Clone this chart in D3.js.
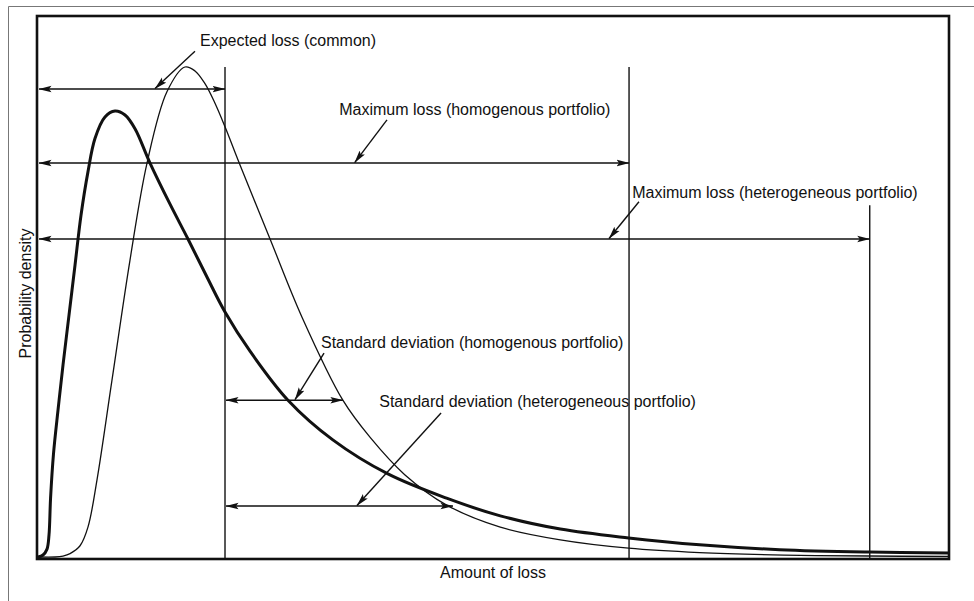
<!DOCTYPE html>
<html>
<head>
<meta charset="utf-8">
<script src="https://cdn.jsdelivr.net/npm/d3@7"></script>
<style>
  body { margin: 0; background: #fff; }
  svg text { font-family: "Liberation Sans", Arial, Helvetica, sans-serif; font-size: 16px; fill: #111; }
</style>
</head>
<body>
<svg id="chart" width="974" height="601"></svg>
<script>
// Loss distribution, homogenous portfolio (thin) - [amount of loss, density]
const homogenous = [
  [0, 0], [1.87, 0], [2.75, 0.2], [3.52, 0.7], [4.62, 2.3], [5.49, 6.1], [6.48, 15.7],
  [8.13, 36.1], [10.11, 60.6], [11.98, 80.4], [14.18, 95.0], [16.15, 100],
  [17.25, 99.2], [18.35, 96.6], [19.45, 92.6], [20.55, 87.8], [22.2, 80.0], [25.5, 64.9],
  [29.0, 49.0], [33.5, 32.0], [36.5, 24.4], [40.3, 16.8], [44.9, 10.6], [50.8, 6.1],
  [57.4, 3.5], [64.9, 1.8], [72.7, 0.9], [82, 0.4], [91.4, 0.2], [100, 0.1]
];

// Loss distribution, heterogeneous portfolio (heavy)
const heterogeneous = [
  [0, 0], [0.55, 0.4], [0.99, 1.6], [1.21, 4.5], [1.38, 12], [1.7, 21], [2.2, 30],
  [2.75, 39.2], [3.41, 49.4], [4.07, 59.6], [4.73, 69.8], [5.49, 78.6], [6.26, 85.4],
  [7.36, 89.8], [8.46, 91.0], [9.56, 90.2], [10.66, 87.4], [12.31, 80.4], [14.51, 72.0],
  [16.48, 64.9], [18.5, 57.4], [20.55, 50.0], [23.3, 42.0], [27.47, 32.0], [32.4, 23.9],
  [38.4, 17.0], [44.9, 12.0], [50.8, 8.4], [57.4, 5.7], [64.9, 3.9], [72.7, 2.5],
  [81.5, 1.5], [91.4, 1.0], [100, 0.8]
];

// Vertical marker lines: [loss, top density]
const markers = [[20.55, 100], [64.95, 100], [91.4, 71.8]];

// Measured spans: [from, to, level, double headed]
const spans = [
  [0, 20.55, 95.5, true],
  [0, 64.95, 80.4, true],
  [0, 91.4, 64.9, true],
  [20.55, 33.5, 32.0, true],
  [20.55, 45.6, 10.4, true]
];

// Annotation labels: text, loss, density (baseline), leader start, leader tip
const labels = [
  { text: "Expected loss (common)", x: 17.8, y: 104.3, from: [17.25, 103.2], to: [12.86, 95.6] },
  { text: "Maximum loss (homogenous portfolio)", x: 33.1, y: 90.2, from: [38.35, 89.2], to: [34.8, 80.5] },
  { text: "Maximum loss (heterogeneous portfolio)", x: 65.3, y: 73.3, from: [66.04, 72.5], to: [62.75, 65.0] },
  { text: "Standard deviation (homogenous portfolio)", x: 31.1, y: 42.65, from: [31.43, 41.6], to: [28.24, 32.1] },
  { text: "Standard deviation (heterogeneous portfolio)", x: 37.5, y: 30.6, from: [44.29, 29.4], to: [35.05, 10.5] }
];

const axisTitles = ["Amount of loss", "Probability density"];

const svg = d3.select("#chart");
const frame = { left: 37, top: 16, right: 949, bottom: 559 };

const x = d3.scaleLinear().domain([0, 100]).range([38, 948]);
const y = d3.scaleLinear().domain([0, 100]).range([557, 67]);

// Arrowhead marker
const defs = svg.append("defs");
defs.append("marker")
  .attr("id", "head")
  .attr("markerUnits", "userSpaceOnUse")
  .attr("viewBox", "0 -4 13 8")
  .attr("markerWidth", 13)
  .attr("markerHeight", 8)
  .attr("refX", 12.5)
  .attr("refY", 0)
  .attr("orient", "auto-start-reverse")
  .append("path")
  .attr("d", "M0,-3.3L13,0L0,3.3L2.5,0Z")
  .attr("fill", "#111");

// Outer thin border (cropped)
svg.append("path")
  .attr("d", "M8.5,601V6.5H974")
  .attr("fill", "none")
  .attr("stroke", "#777")
  .attr("stroke-width", 1);

// Plot frame
svg.append("rect")
  .attr("x", frame.left)
  .attr("y", frame.top)
  .attr("width", frame.right - frame.left)
  .attr("height", frame.bottom - frame.top)
  .attr("fill", "none")
  .attr("stroke", "#111")
  .attr("stroke-width", 2.6);

// Vertical lines
svg.selectAll("line.marker")
  .data(markers)
  .enter().append("line")
  .attr("class", "marker")
  .attr("x1", d => x(d[0]))
  .attr("x2", d => x(d[0]))
  .attr("y1", d => y(d[1]))
  .attr("y2", frame.bottom)
  .attr("stroke", "#111")
  .attr("stroke-width", 1.4);

// Curves
const line = d3.line()
  .x(d => x(d[0]))
  .y(d => y(d[1]))
  .curve(d3.curveCatmullRom.alpha(0.5));

svg.append("path")
  .datum(homogenous)
  .attr("d", line)
  .attr("fill", "none")
  .attr("stroke", "#111")
  .attr("stroke-width", 1.3);

svg.append("path")
  .datum(heterogeneous)
  .attr("d", line)
  .attr("fill", "none")
  .attr("stroke", "#111")
  .attr("stroke-width", 3);

// Span arrows
svg.selectAll("line.span")
  .data(spans)
  .enter().append("line")
  .attr("class", "span")
  .attr("x1", d => x(d[0]) + 1)
  .attr("x2", d => x(d[1]))
  .attr("y1", d => y(d[2]))
  .attr("y2", d => y(d[2]))
  .attr("stroke", "#111")
  .attr("stroke-width", 1.4)
  .attr("marker-start", d => d[3] ? "url(#head)" : null)
  .attr("marker-end", "url(#head)");

// Labels and leader arrows
svg.selectAll("line.leader")
  .data(labels)
  .enter().append("line")
  .attr("class", "leader")
  .attr("x1", d => x(d.from[0]))
  .attr("y1", d => y(d.from[1]))
  .attr("x2", d => x(d.to[0]))
  .attr("y2", d => y(d.to[1]))
  .attr("stroke", "#111")
  .attr("stroke-width", 1.4)
  .attr("marker-end", "url(#head)");

svg.selectAll("text.label")
  .data(labels)
  .enter().append("text")
  .attr("class", "label")
  .attr("x", d => x(d.x))
  .attr("y", d => y(d.y))
  .text(d => d.text);

// Axis titles
svg.append("text")
  .attr("x", (frame.left + frame.right) / 2)
  .attr("y", 578)
  .attr("text-anchor", "middle")
  .text(axisTitles[0]);

svg.append("text")
  .attr("transform", `translate(31,${(frame.top + frame.bottom) / 2 + 6}) rotate(-90)`)
  .attr("text-anchor", "middle")
  .text(axisTitles[1]);
</script>
</body>
</html>
